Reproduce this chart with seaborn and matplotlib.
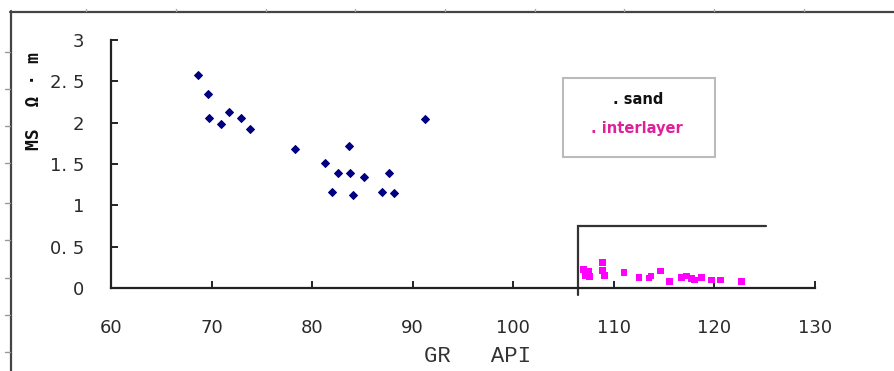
import matplotlib
matplotlib.use("Agg")
import matplotlib.pyplot as plt
import seaborn as sns
import pandas as pd
from matplotlib.lines import Line2D
from matplotlib.patches import Rectangle

# ---- data ----
sand_gr = [68.7, 69.6, 69.7, 70.95, 71.7, 72.9, 73.8, 78.3, 81.3, 82.0, 82.6,
           83.7, 83.8, 84.1, 85.2, 86.9, 87.6, 88.1, 91.25]
sand_ms = [2.58, 2.35, 2.06, 1.98, 2.13, 2.06, 1.92, 1.68, 1.51, 1.16, 1.39,
           1.72, 1.39, 1.12, 1.34, 1.16, 1.39, 1.15, 2.04]

inter_gr = [107.0, 107.5, 107.2, 107.6, 108.9, 108.9, 109.1, 111.0, 112.5,
            113.5, 113.7, 114.6, 115.5, 116.7, 117.2, 117.7, 118.0, 118.7,
            119.7, 120.6, 122.7]
inter_ms = [0.22, 0.20, 0.15, 0.14, 0.31, 0.21, 0.15, 0.19, 0.125,
            0.12, 0.145, 0.205, 0.076, 0.125, 0.145, 0.117, 0.097, 0.125,
            0.097, 0.097, 0.076]

# bracket line drawn in the reference (cutoff region)
cut_x = [106.4, 106.4, 125.1]
cut_y = [-0.085, 0.753, 0.753]

x_ticks = [60, 70, 80, 90, 100, 110, 120, 130]
x_tick_labels = ["60", "70", "80", "90", "100", "110", "120", "130"]
y_ticks = [0, 0.5, 1, 1.5, 2, 2.5, 3]
y_tick_labels = ["0", "0. 5", "1", "1. 5", "2", "2. 5", "3"]

legend_labels = [". sand", ". interlayer"]

sand_df = pd.DataFrame({"GR": sand_gr, "MS": sand_ms})
inter_df = pd.DataFrame({"GR": inter_gr, "MS": inter_ms})

sns.set_theme(style="white")
plt.rcParams["font.family"] = ["DejaVu Sans"]

W, H = 894, 371
fig = plt.figure(figsize=(W / 100, H / 100), dpi=100)
ax = fig.add_axes([111 / W, 1 - 288 / H, (815 - 111) / W, (288 - 40) / H])

sns.scatterplot(data=sand_df, x="GR", y="MS", ax=ax, marker="D", s=16,
                color="#000080", edgecolor="#000080", linewidth=0.8)
sns.scatterplot(data=inter_df, x="GR", y="MS", ax=ax, marker="s", s=24,
                color="#FF00FF", edgecolor="none", linewidth=0)
ax.plot(cut_x, cut_y, color="#333333", lw=1.6, clip_on=False,
        solid_joinstyle="miter")

ax.set_xlim(60, 130)
ax.set_ylim(0, 3)
ax.set_xticks(x_ticks)
ax.set_xticklabels(x_tick_labels)
ax.set_yticks(y_ticks)
ax.set_yticklabels(y_tick_labels)

for s in ["top", "right"]:
    ax.spines[s].set_visible(False)
for s in ["left", "bottom"]:
    ax.spines[s].set_color("#222222")
    ax.spines[s].set_linewidth(1.6)

ax.tick_params(axis="both", direction="in", length=5, width=1.4,
               color="#222222", labelsize=13, labelcolor="#2a2a2a")
ax.tick_params(axis="y", pad=19)
ax.tick_params(axis="x", pad=22)
ax.tick_params(axis="x", which="both", bottom=True)
ax.tick_params(axis="y", which="both", left=True)

ax.set_xlabel("GR   API", fontsize=16, family=["Liberation Mono"],
              color="#333333")
ax.xaxis.label.set_va("center")
ax.xaxis.set_label_coords((477 - 111) / 704, (288 - 357) / 248)

ax.set_ylabel("MS  Ω · m", fontsize=13, family=["DejaVu Sans Mono"],
              color="#111111", fontweight="bold")
ax.yaxis.label.set_va("center")
ax.yaxis.set_label_coords((34 - 111) / 704, (288 - 101) / 248)

# legend box
lx0, lx1 = (563 - 111) / 704, (715 - 111) / 704
ly0, ly1 = (288 - 157) / 248, (288 - 78) / 248
ax.add_patch(Rectangle((lx0, ly0), lx1 - lx0, ly1 - ly0, transform=ax.transAxes,
                       facecolor="white", edgecolor="#bbbbbb", lw=1.5,
                       clip_on=False, zorder=5))
ax.text((638 - 111) / 704, (288 - 100) / 248, legend_labels[0],
        transform=ax.transAxes, ha="center", va="center", fontsize=10.5,
        fontweight="bold", family=["DejaVu Sans"], color="#111111", zorder=6)
ax.text((637 - 111) / 704, (288 - 129) / 248, legend_labels[1],
        transform=ax.transAxes, ha="center", va="center", fontsize=10.5,
        fontweight="bold", family=["DejaVu Sans"], color="#E0209A", zorder=6)

# outer document frame
def fx(px):
    return px / W

def fy(py):
    return 1 - py / H

fig.add_artist(Line2D([fx(10), fx(W)], [fy(11.5), fy(11.5)], color="#444444", lw=1.6))
fig.add_artist(Line2D([fx(10.5), fx(10.5)], [fy(11), fy(H)], color="#444444", lw=1.6))
for px in [86, 176, 265.5, 355, 445, 535, 624, 714, 804]:
    fig.add_artist(Line2D([fx(px), fx(px)], [fy(8.5), fy(11)], color="#aaaaaa", lw=1))
for py in [52, 89, 126, 163, 203, 240, 278, 315, 352]:
    fig.add_artist(Line2D([fx(5), fx(10)], [fy(py), fy(py)], color="#999999", lw=1))

fig.savefig("out.png", dpi=100)
